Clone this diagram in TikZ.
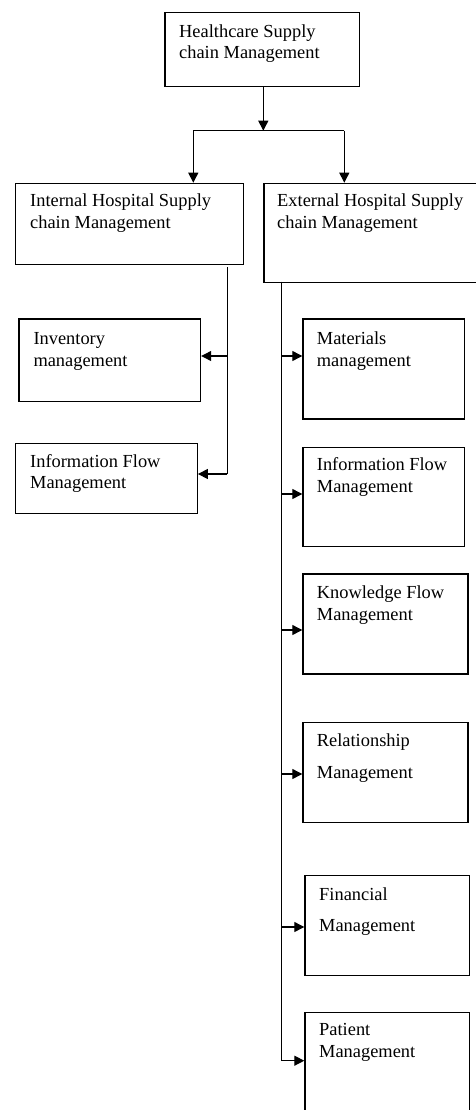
\documentclass[tikz,border=0pt]{standalone}
\usepackage{fontspec}
\setmainfont{Liberation Serif}
\usetikzlibrary{arrows.meta,positioning}
\begin{document}
\begin{tikzpicture}[x=1pt,y=-1pt,
  box/.style={draw,line width=1.2pt,inner sep=0pt,rectangle},
  txt/.style={anchor=north west,inner sep=0pt,align=left,font=\fontsize{18.4}{21.5}\selectfont},
  wide/.style={font=\fontsize{18.4}{31.5}\selectfont},
  line/.style={line width=1.2pt},
  arr/.style={line width=1.2pt,-{Triangle[length=10pt,width=10pt]}}]
\useasboundingbox (0,0) rectangle (475,1110);
% boxes: drawn as nodes spanning corner to corner
\newcommand{\mybox}[5]{\node[box,minimum width={#4-#2},minimum height={#5-#3},anchor=north west] (#1) at (#2,#3) {};}
\mybox{top}{164.3}{12.3}{359}{85.7}
\mybox{int}{15}{182.7}{242.7}{264}
\mybox{ext}{263.3}{182.7}{478}{281.7}
\mybox{inv}{18.3}{318.3}{200}{400.7}
\mybox{infL}{15}{442.7}{196.7}{512.7}
\mybox{mat}{302.3}{318.3}{464}{418.3}
\mybox{infR}{302.3}{446.7}{464}{546}
\mybox{know}{302.3}{573.3}{467.3}{673.3}
\mybox{rel}{302.3}{721.7}{467.3}{821.7}
\mybox{fin}{304.3}{875}{469}{975}
\mybox{pat}{304.3}{1011.7}{469}{1116}
% texts
\node[txt] (topt) at (179,24.3) {Healthcare Supply\\chain Management};
\node[txt] (intt) at (30,194) {Internal Hospital Supply\\chain Management};
\node[txt] (extt) at (277,194) {External Hospital Supply\\chain Management};
\node[txt] (invt) at (33.3,332.5) {Inventory\\management};
\node[txt] (infLt) at (30,454) {Information Flow\\Management};
\node[txt] (matt) at (316.7,331.8) {Materials\\management};
\node[txt] (infRt) at (316.7,457.5) {Information Flow\\Management};
\node[txt] (knowt) at (316.7,585.8) {Knowledge Flow\\Management};
\node[txt,wide] (relt) at (316.7,734) {Relationship\\Management};
\node[txt,wide] (fint) at (319,887.3) {Financial\\Management};
\node[txt] (patt) at (319,1023.5) {Patient\\Management};
% connectors
\coordinate (j) at (263.3,130.7);
\coordinate (jl) at (193.3,130.7);
\coordinate (jr) at (344.3,130.7);
\draw[arr] (top.south -| j) -- (j);
\draw[line] (jl) -- (jr);
\draw[arr] (jl) -- (jl |- int.north);
\draw[arr] (jr) -- (jr |- ext.north);
\coordinate (is) at (227.3,267);
\coordinate (ia) at (227.3,356);
\coordinate (ib) at (227.3,474);
\draw[line] (is) -- (ib);
\draw[arr] (ia) -- (ia -| inv.east);
\draw[arr] (ib) -- (ib -| infL.east);
\coordinate (es) at (281.5,281.7);
\coordinate (e1) at (281.5,356);
\coordinate (e2) at (281.5,494);
\coordinate (e3) at (281.5,630);
\coordinate (e4) at (281.5,774);
\coordinate (e5) at (281.5,927);
\coordinate (e6) at (281.5,1060.7);
\draw[line] (es) -- (e6);
\draw[arr] (e1) -- (e1 -| mat.west);
\draw[arr] (e2) -- (e2 -| infR.west);
\draw[arr] (e3) -- (e3 -| know.west);
\draw[arr] (e4) -- (e4 -| rel.west);
\draw[arr] (e5) -- (e5 -| fin.west);
\draw[arr] (e6) -- (e6 -| pat.west);
\end{tikzpicture}
\end{document}
